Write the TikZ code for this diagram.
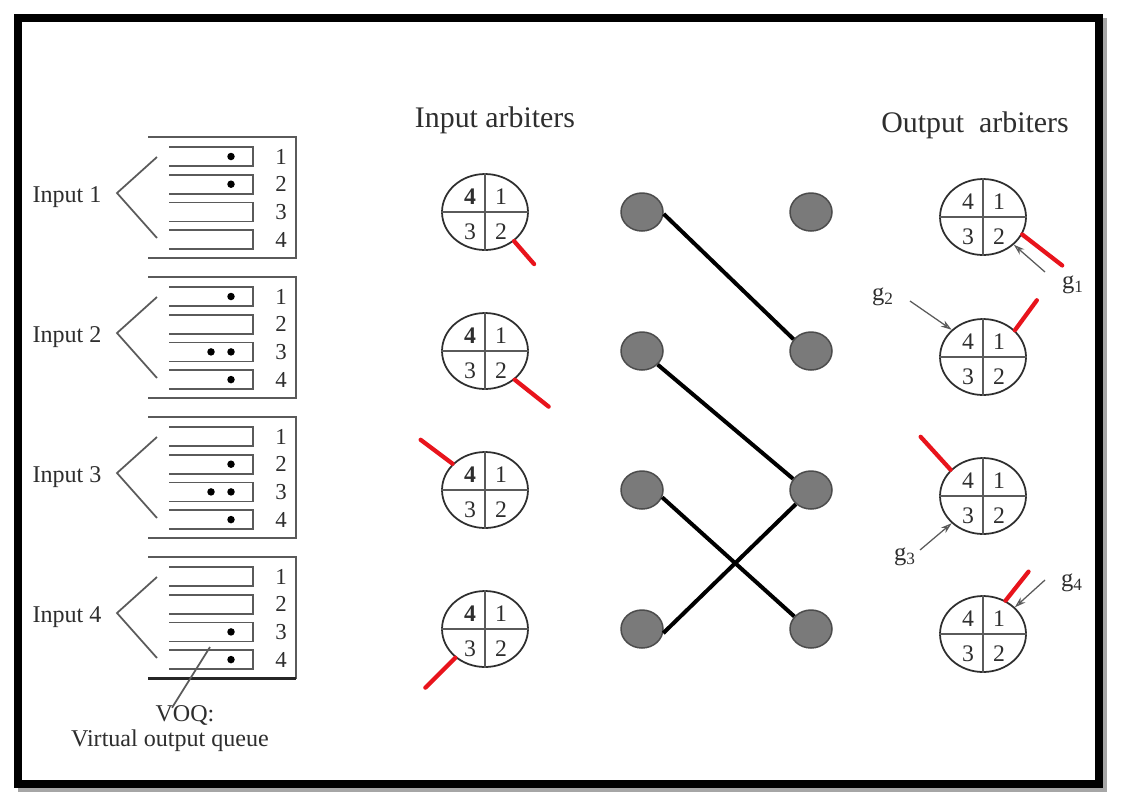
\documentclass[tikz,border=0pt]{standalone}
\usepackage{fontspec}
\setmainfont{Liberation Serif}
\usetikzlibrary{calc,shapes.geometric,arrows.meta}
\definecolor{inkgray}{HTML}{2E2E2E}
\definecolor{linegray}{HTML}{5A5A5A}
\definecolor{dotgray}{HTML}{7A7A7A}
\definecolor{markred}{HTML}{E8141C}
\def\arbiter#1(#2)#3{%
	\node[arb] (#1) at (#2) {};
	\draw[arbline] (#1.north) -- (#1.south);
	\draw[arbline] (#1.west) -- (#1.east);
	\node[anum] (#1-4) at ($(#1)+(-15,-15)$) {#3};
	\node[anum] (#1-1) at ($(#1)+(16,-15)$) {1};
	\node[anum] (#1-3) at ($(#1)+(-15,20)$) {3};
	\node[anum] (#1-2) at ($(#1)+(16,20)$) {2};
}

\begin{document}
\begin{tikzpicture}[x=0.02cm, y=-0.02cm,
	lbl/.style={text=inkgray, font=\fontsize{13.7}{16}\selectfont, inner sep=0pt},
	qnum/.style={text=inkgray, font=\fontsize{13}{15}\selectfont, inner sep=0pt},
	title/.style={text=inkgray, font=\fontsize{17}{20}\selectfont, inner sep=0pt},
	anum/.style={text=inkgray, font=\fontsize{13.5}{15}\selectfont, inner sep=0pt},
	glbl/.style={text=inkgray, font=\fontsize{14}{16}\selectfont, inner sep=0pt},
	blockline/.style={line width=0.035cm, color=linegray},
	queueline/.style={line width=0.035cm, color=linegray},
	arb/.style={ellipse, draw=inkgray, line width=0.035cm, minimum width=1.72cm, minimum height=1.52cm, inner sep=0pt},
	arbline/.style={line width=0.035cm, color=linegray},
	xdot/.style={ellipse, draw=black!70, fill=dotgray, line width=0.03cm, minimum width=0.84cm, minimum height=0.76cm, inner sep=0pt},
	link/.style={line width=0.08cm, color=black},
	grant/.style={line width=0.085cm, color=markred, line cap=round},
	req/.style={line width=0.025cm, color=linegray, -{Stealth[open, length=0.22cm, width=0.14cm]}}]
			%%%%% START %%%%%
			\useasboundingbox (0,0) rectangle (1125,806);
			
			\draw[line width=0.16cm, color=black!35] (22,22) rectangle (1103,788);
			\draw[line width=0.16cm, fill=white] (18,18) rectangle (1099,784);
			
			% VOQ blocks
			\foreach \k [evaluate=\k as \off using 140*(\k-1)] in {1,...,4} {
				\draw[blockline] (148,137+\off) -- (296,137+\off) -- (296,258+\off) -- (148,258+\off);
				\draw[blockline] (157,157+\off) -- (117,193+\off) -- (157,238+\off);
				\node[lbl] (in\k) at (67,197+\off) {Input \k};
				\foreach \i [evaluate=\i as \qy using 147+\off+27.7*(\i-1)] in {1,...,4} {
					\draw[queueline] (169,\qy) -- (253,\qy) -- (253,\qy+19) -- (169,\qy+19);
					\node[qnum] (q\k-\i) at (281,\qy+9.5) {\i};
				}
			}
			\draw[line width=0.06cm, color=black!85] (148,678) -- (296,678);
			
			\foreach \k/\i/\x in {1/1/231, 1/2/231, 2/1/231, 2/3/211, 2/3/231, 2/4/231,
				3/2/231, 3/3/211, 3/3/231, 3/4/231, 4/3/231, 4/4/231}
				\fill (\x,{147+140*(\k-1)+27.7*(\i-1)+9.5}) circle (0.075cm);
			
			\node[lbl] (voq) at (185,715) {VOQ:};
			\node[lbl] (voqtxt) at (170,741) {Virtual output queue};
			\coordinate (voqtip) at (210,647);
			\draw[queueline] ($(voq.north)+(-13,3)$) -- (voqtip);
			
			% arbiters
			\node[title] (intitle) at (495,120) {Input arbiters};
			\node[title] (outtitle) at (975,125) {Output~ arbiters};
			
			\foreach \n/\y in {1/212, 2/351, 3/490, 4/629} {
				\arbiter{ia\n}(485,\y){\textbf{4}}
				\node[xdot] (L\n) at (642,\y) {};
				\node[xdot] (R\n) at (811,\y) {};
			}
			\foreach \n/\y in {1/217, 2/357, 3/496, 4/634} {
				\arbiter{oa\n}(983,\y){4}
			}
			
			% crossbar
			\draw[link] (L1.-5) -- (R2.146);
			\draw[link] (L2.-41) -- (R3.148);
			\draw[link] (L3.-20) -- (R4.143);
			\draw[link] (L4.-11) -- (R3.223);
			
			% grants
			\draw[grant] (ia1.-45) -- ++(20,23);
			\draw[grant] (ia2.-44) -- ++(34,27);
			\draw[grant] (ia3.141) -- ++(-32,-24);
			\draw[grant] (ia4.224) -- ++(-30,30);
			\draw[grant] (oa1.-24) -- ++(40,31);
			\draw[grant] (oa2.40) -- ++(22,-30);
			\draw[grant] (oa3.141) -- ++(-30,-33);
			\draw[grant] (oa4.56) -- ++(23,-29);
			
			\node[glbl] (g1) at (1073,285) {g\textsubscript{1}};
			\node[glbl] (g2) at (883,297) {g\textsubscript{2}};
			\node[glbl] (g3) at (905,557) {g\textsubscript{3}};
			\node[glbl] (g4) at (1072,583) {g\textsubscript{4}};
			\draw[req] ($(g1)+(-28,-13)$) -- (oa1.-42);
			\draw[req] ($(g2)+(27,4)$) -- (oa2.139);
			\draw[req] ($(g3)+(15,-7)$) -- (oa3.221);
			\draw[req] ($(g4)+(-27,-3)$) -- (oa4.40);
			
			%%%%% END %%%%%
\end{tikzpicture}
\end{document}
